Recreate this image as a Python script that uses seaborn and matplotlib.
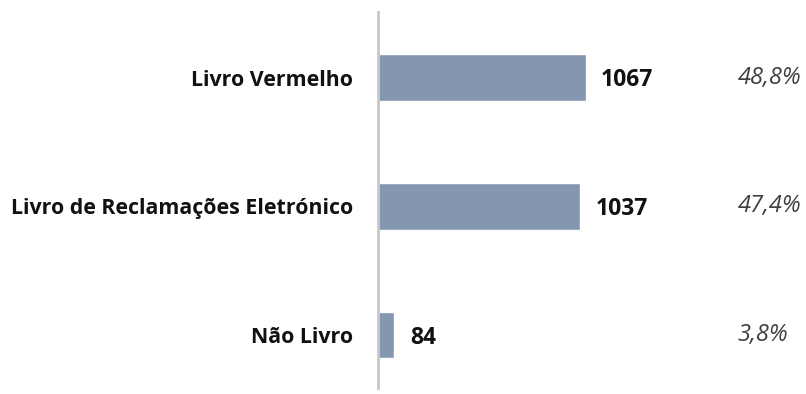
import pandas as pd
import matplotlib
matplotlib.use('Agg')
import matplotlib.pyplot as plt
import seaborn as sns

categories = ['Livro Vermelho', 'Livro de Reclamações Eletrónico', 'Não Livro']
counts = [1067, 1037, 84]
shares = ['48,8%', '47,4%', '3,8%']

df = pd.DataFrame({'categoria': categories, 'total': counts})

sns.set_style('white')
plt.rcParams['font.family'] = ['Open Sans', 'DejaVu Sans']

fig = plt.figure(figsize=(8.06, 3.94), dpi=100)
ax = fig.add_axes([378 / 806, 6 / 394, 428 / 806, 376 / 394])
sns.barplot(data=df, x='total', y='categoria', orient='h', color='#8497B0',
            saturation=1, width=0.36, ax=ax)

ax.set_xlim(0, 2200)
ax.set_ylim(2.41, -0.51)
ax.set_xlabel('')
ax.set_ylabel('')
ax.set_xticks([])
ax.tick_params(axis='y', length=0, pad=18)
for lbl in ax.get_yticklabels():
    lbl.set_fontweight('bold')
    lbl.set_fontsize(15.4)
    lbl.set_color('#111111')

for s in ['top', 'right', 'bottom']:
    ax.spines[s].set_visible(False)
ax.spines['left'].set_color('#c8c8c8')
ax.spines['left'].set_linewidth(2)

for i, (v, p) in enumerate(zip(counts, shares)):
    ax.text(v + 80, i + 0.02, str(v), va='center', ha='left', fontsize=16.5,
            fontweight='bold', color='#111111')
    ax.text(1850, i, p, va='center', ha='left', fontsize=17,
            style='italic', color='#404040')

fig.savefig('out.png', dpi=100)
